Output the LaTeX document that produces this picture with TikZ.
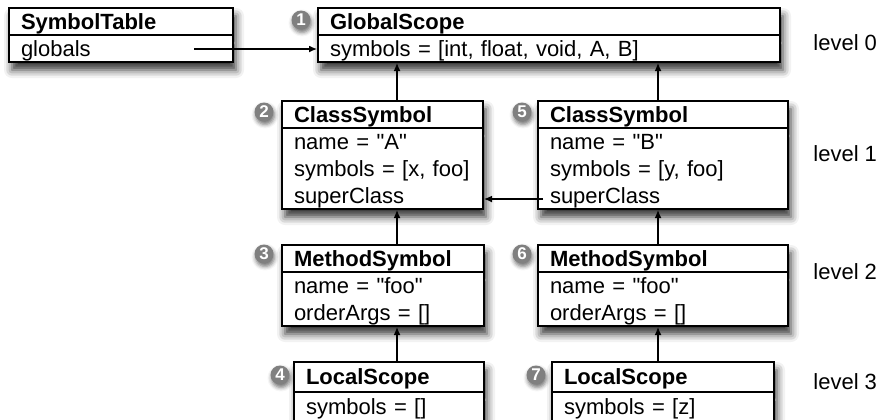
\documentclass[tikz,border=0pt]{standalone}
\usepackage{fontspec}
\setmainfont{Liberation Sans}[Ligatures=TeXOff]
\usetikzlibrary{arrows.meta,positioning,shapes.multipart,shadows.blur}

% one row of a record
\newcommand{\rs}{\rule[-2.8pt]{0pt}{13.5pt}}

\begin{document}
\begin{tikzpicture}[x=0.5pt,y=-0.5pt,>={Latex[length=4pt,width=3.4pt]}]

\tikzstyle{record}=[
  rectangle split,
  rectangle split parts=2,
  draw,
  line width=1pt,
  fill=white,
  inner xsep=6pt,
  inner ysep=-0.5pt,
  align=left,
  anchor=north west,
  font=\fontsize{11}{13.5}\selectfont,
  blur shadow={shadow xshift=1.5pt, shadow yshift=-4pt,
    shadow blur radius=4pt, shadow opacity=80}
]
\tikzstyle{badge}=[
  circle,
  fill=black!50,
  text=white,
  inner sep=0pt,
  minimum size=9.5pt,
  font=\bfseries\fontsize{8.5}{8.5}\selectfont,
  blur shadow={shadow xshift=0.5pt, shadow yshift=-1.5pt,
    shadow blur radius=2pt, shadow opacity=55}
]
\tikzstyle{level}=[anchor=base west, inner xsep=0pt, font=\fontsize{11}{13.5}\selectfont]
\tikzstyle{ref}=[->, line width=0.6pt]

\useasboundingbox (0,0) rectangle (892,419);
\clip (0,0) rectangle (892,419);

% level 0
\node[record, text width=100pt] (st) at (8,7)
{\rs\textbf{SymbolTable}\nodepart{two}\rs globals};

\node[record, text width=219pt] (gs) at (317,7)
{\rs\textbf{GlobalScope}\nodepart{two}\rs symbols = [int, float, void, A, B]};

% level 1
\node[record, text width=88.5pt] (clsA) at (281,100)
{\rs\textbf{ClassSymbol}\nodepart{two}\rs name = "A"\\\rs symbols = [x, foo]\\\rs superClass};

\node[record, text width=113pt] (clsB) at (537,100)
{\rs\textbf{ClassSymbol}\nodepart{two}\rs name = "B"\\\rs symbols = [y, foo]\\\rs superClass};

% level 2
\node[record, below=17pt of clsA.south west, anchor=north west, text width=89pt] (mthA)
{\rs\textbf{MethodSymbol}\nodepart{two}\rs name = "foo"\\\rs orderArgs = []};

\node[record, below=17pt of clsB.south west, anchor=north west, text width=113pt] (mthB)
{\rs\textbf{MethodSymbol}\nodepart{two}\rs name = "foo"\\\rs orderArgs = []};

% level 3 (runs off the bottom edge)
\node[record, inner ysep=0.2pt, below=17pt of mthA.south west, anchor=north west, xshift=6pt, text width=83pt] (locA)
{\rs\textbf{LocalScope}\nodepart{two}\rs symbols = []};

\node[record, inner ysep=0.2pt, below=17pt of mthB.south west, anchor=north west, xshift=7pt, text width=99pt] (locB)
{\rs\textbf{LocalScope}\nodepart{two}\rs symbols = [z]};

% badges
\node[badge] (b1) at ([xshift=-8pt,yshift=-6.5pt]gs.north west) {1};
\node[badge] (b2) at ([xshift=-8.5pt,yshift=-6pt]clsA.north west) {2};
\node[badge] (b3) at ([xshift=-8.5pt,yshift=-5pt]mthA.north west) {3};
\node[badge] (b4) at ([xshift=-6.5pt,yshift=-7pt]locA.north west) {4};
\node[badge] (b5) at ([xshift=-7.5pt,yshift=-6pt]clsB.north west) {5};
\node[badge] (b6) at ([xshift=-7.5pt,yshift=-5pt]mthB.north west) {6};
\node[badge] (b7) at ([xshift=-7.5pt,yshift=-7pt]locB.north west) {7};

% level labels
\node[level] (l0) at (813,50) {level 0};
\node[level] (l1) at (813,161) {level 1};
\node[level] (l2) at (813,279) {level 2};
\node[level] (l3) at (813,389) {level 3};

% references
\coordinate (colA) at (397,0);
\coordinate (colB) at (658,0);
\coordinate (globOut) at ([xshift=-20pt,yshift=7pt]st.south east);
\coordinate (supOut) at ([xshift=3pt,yshift=5.5pt]clsB.south west);

\draw[ref] (globOut) -- (globOut -| gs.west);
\draw[ref] (clsA.north -| colA) -- (gs.south -| colA);
\draw[ref] (clsB.north -| colB) -- (gs.south -| colB);
\draw[ref] (supOut) -- (supOut -| clsA.east);
\draw[ref] (mthA.north -| colA) -- (clsA.south -| colA);
\draw[ref] (mthB.north -| colB) -- (clsB.south -| colB);
\draw[ref] (locA.north -| colA) -- (mthA.south -| colA);
\draw[ref] (locB.north -| colB) -- (mthB.south -| colB);

\end{tikzpicture}
\end{document}
